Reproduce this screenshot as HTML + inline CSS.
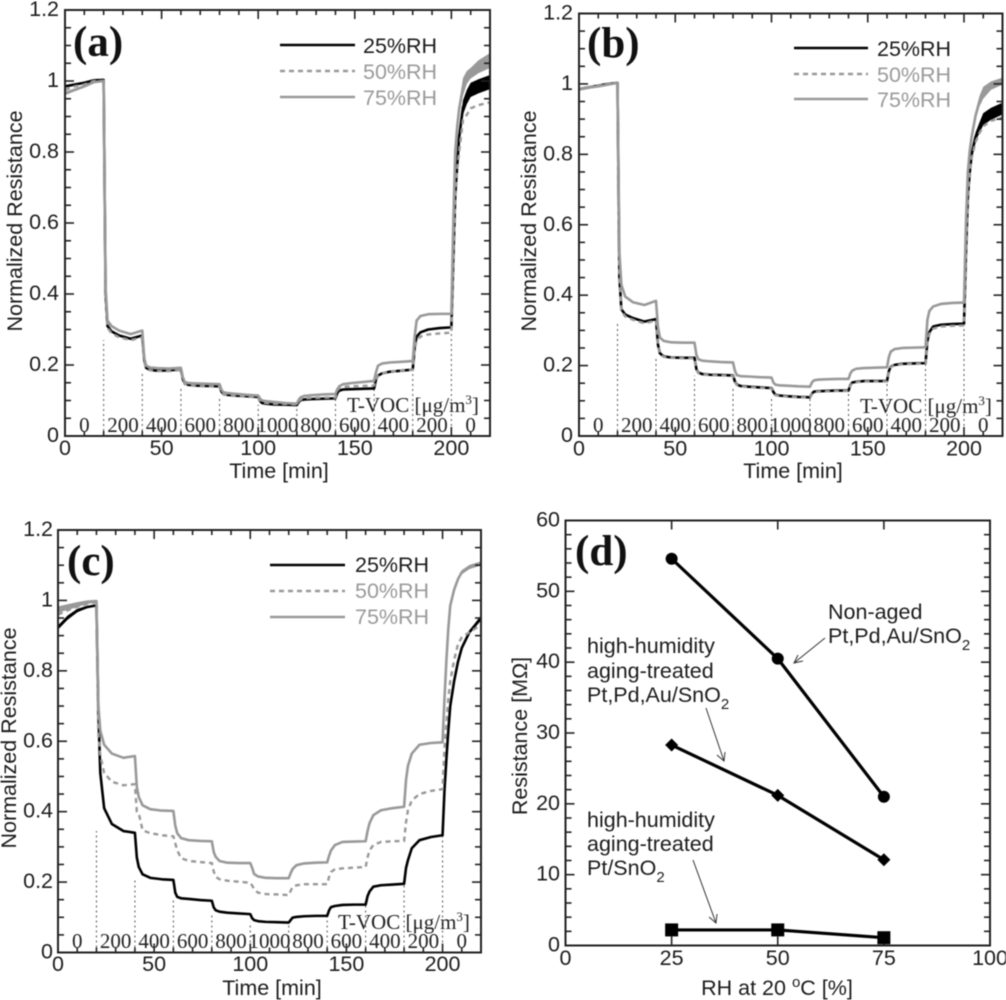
<!DOCTYPE html>
<html lang="en">
<head>
<meta charset="utf-8">
<title>Normalized resistance under T-VOC at varying humidity</title>
<style>
  html, body { margin: 0; padding: 0; background: #fff; }
  #figure { display: block; width: 1006px; height: 1000px; filter: blur(0.45px); }
  text { font-family: "Liberation Sans", Arial, sans-serif; font-size: 21.5px; fill: #1c1c1c; }
  .gray { fill: #9a9a9a; }
  .serif { font-family: "Liberation Serif", "Times New Roman", serif; font-size: 21px; fill: #222; }
  .tag { font-family: "Liberation Serif", "Times New Roman", serif; font-size: 43px; font-weight: bold; fill: #111; }
  .axis { fill: none; stroke: #222; stroke-width: 2; }
  .tick { stroke: #222; stroke-width: 1.6; }
  .guide { stroke: #555; stroke-width: 1; stroke-dasharray: 2 3; }
  .s25 { fill: none; stroke: #000; stroke-width: 2.6; stroke-linejoin: round; }
  .s50 { fill: none; stroke: #999; stroke-width: 2.4; stroke-dasharray: 5 4; }
  .s75 { fill: none; stroke: #999; stroke-width: 2.6; stroke-linejoin: round; }
  .trend { fill: none; stroke: #000; stroke-width: 3.2; stroke-linejoin: round; }
  .pointer { fill: none; stroke: #333; stroke-width: 1; }
</style>
</head>
<body>
<svg id="figure" xmlns="http://www.w3.org/2000/svg" width="1006" height="1000" viewBox="0 0 1006 1000">
  <rect width="1006" height="1000" fill="#fff"/>

  <g id="panel-a">
    <text class="tag" x="73" y="56">(a)</text>
    <text x="22" y="221" text-anchor="middle" transform="rotate(-90 22 221)">Normalized Resistance</text>
    <text x="279" y="478" text-anchor="middle">Time [min]</text>
    <line class="s25" x1="280" y1="45" x2="355" y2="45"/>
    <line class="s50" x1="280" y1="71" x2="355" y2="71"/>
    <line class="s75" x1="280" y1="97" x2="355" y2="97"/>
    <text x="363" y="53">25%RH</text>
    <text class="gray" x="363" y="79">50%RH</text>
    <text class="gray" x="363" y="105">75%RH</text>
    <text class="serif" x="347" y="412">T-VOC [μg/m<tspan dy="-8" font-size="13">3</tspan><tspan dy="8">]</tspan></text>
  </g>

  <g id="panel-b">
    <text class="tag" x="587" y="57">(b)</text>
    <text x="536" y="221" text-anchor="middle" transform="rotate(-90 536 221)">Normalized Resistance</text>
    <text x="793" y="478" text-anchor="middle">Time [min]</text>
    <line class="s25" x1="794" y1="48" x2="868" y2="48"/>
    <line class="s50" x1="794" y1="74" x2="868" y2="74"/>
    <line class="s75" x1="794" y1="99" x2="868" y2="99"/>
    <text x="877" y="56">25%RH</text>
    <text class="gray" x="877" y="82">50%RH</text>
    <text class="gray" x="877" y="107">75%RH</text>
    <text class="serif" x="860" y="413">T-VOC [μg/m<tspan dy="-8" font-size="13">3</tspan><tspan dy="8">]</tspan></text>
  </g>

  <g id="panel-c">
    <text class="tag" x="67" y="575">(c)</text>
    <text x="16" y="738" text-anchor="middle" transform="rotate(-90 16 738)">Normalized Resistance</text>
    <text x="272" y="995" text-anchor="middle">Time [min]</text>
    <line class="s25" x1="270" y1="565" x2="345" y2="565"/>
    <line class="s50" x1="270" y1="591" x2="345" y2="591"/>
    <line class="s75" x1="270" y1="617" x2="345" y2="617"/>
    <text x="355" y="572">25%RH</text>
    <text class="gray" x="355" y="598">50%RH</text>
    <text class="gray" x="355" y="624">75%RH</text>
    <text class="serif" x="338" y="929">T-VOC [μg/m<tspan dy="-8" font-size="13">3</tspan><tspan dy="8">]</tspan></text>
  </g>

  <g id="panel-d">
    <text class="tag" x="575" y="565">(d)</text>
    <text x="527" y="736" text-anchor="middle" transform="rotate(-90 527 736)">Resistance [MΩ]</text>
    <text x="777" y="995" text-anchor="middle">RH at 20 <tspan dy="-8" font-size="15">o</tspan><tspan dy="8">C [%]</tspan></text>
    <text x="828" y="619">Non-aged</text>
    <text x="828" y="643">Pt,Pd,Au/SnO<tspan dy="7" font-size="15">2</tspan></text>
    <text x="587" y="653">high-humidity</text>
    <text x="587" y="678">aging-treated</text>
    <text x="587" y="702">Pt,Pd,Au/SnO<tspan dy="7" font-size="15">2</tspan></text>
    <text x="587" y="827">high-humidity</text>
    <text x="587" y="851">aging-treated</text>
    <text x="587" y="875">Pt/SnO<tspan dy="7" font-size="15">2</tspan></text>
    <path class="pointer" d="M825 638 L794 663 M803 661 L794 663 L798 655"/>
    <path class="pointer" d="M706 708 L724 761 M717 755 L724 761 L725 752"/>
    <path class="pointer" d="M693 860 L716 923 M709 917 L716 923 L717 914"/>
  </g>
</svg>

<script>
// Time samples shared by every series of panels a, b and c (minutes)
const times = [0,5,10,15,20, 21,22,24,28,34,40, 41,42,44,48,54,60, 61,62,64,68,74,80, 81,82,84,88,94,100, 101,102,104,108,114,120, 121,122,124,128,134,140, 141,142,144,148,154,160, 161,162,164,168,174,180, 181,182,184,188,194,200, 201,202,203,204,206,208,210,214,220];
const stepTimes = [20,40,60,80,100,120,140,160,180,200];
const vocTimes = [10,30,50,70,90,110,130,150,170,190,210];
const vocLabels = ['0','200','400','600','800','1000','800','600','400','200','0'];
const timeTicks = [0,50,100,150,200];
const resistanceTicks = [0,0.2,0.4,0.6,0.8,1,1.2];

// Panel (a)
const a25 = [.985,.99,.995,1.002,1.003, .40,.31,.295,.283,.274,.283, .215,.192,.186,.184,.185,.188, .16,.148,.144,.142,.141,.14, .125,.118,.116,.114,.112,.11, .098,.093,.091,.089,.088,.087, .096,.101,.103,.104,.105,.106, .122,.128,.131,.132,.133,.134, .16,.17,.176,.181,.184,.187, .25,.28,.292,.3,.304,.306, .5,.68,.76,.84,.925,.955,.975,.985,.997];
const a50 = [.975,.985,.99,1,1, .40,.305,.29,.278,.27,.278, .21,.19,.185,.183,.183,.186, .158,.146,.143,.141,.14,.139, .124,.117,.115,.113,.111,.109, .099,.095,.093,.091,.09,.089, .098,.103,.106,.107,.108,.108, .128,.135,.138,.14,.141,.142, .16,.17,.176,.181,.184,.187, .245,.27,.28,.286,.289,.291, .5,.67,.75,.8,.89,.905,.923,.932,.94];
const a75 = [.965,.975,.985,.997,1, .42,.325,.31,.297,.287,.297, .22,.198,.193,.191,.19,.192, .165,.152,.149,.148,.147,.146, .13,.123,.121,.119,.116,.114, .105,.1,.098,.096,.093,.091, .102,.109,.113,.115,.117,.118, .132,.14,.146,.149,.152,.155, .18,.198,.204,.207,.209,.211, .28,.325,.338,.343,.344,.344, .6,.8,.87,.92,.983,1.01,1.022,1.04,1.058];
// Half-width of the noisy band: first five samples, then the nine recovery samples
const a25Spread = [.003,.003,.003,.002,.002, .002,.003,.005,.008,.02,.02,.02,.02,.02];
const a50Spread = [0,0,0,0,0, 0,0,0,0,0,0,0,0,0];
const a75Spread = [.005,.004,.004,.003,.002, .002,.005,.008,.015,.025,.018,.015,.018,.021];

// Panel (b)
const b25 = [.985,.99,.995,1,1.003, .45,.36,.345,.335,.325,.332, .26,.235,.226,.223,.222,.222, .19,.18,.176,.174,.173,.172, .155,.146,.142,.14,.138,.136, .125,.117,.115,.113,.111,.11, .12,.126,.127,.128,.129,.129, .145,.152,.154,.156,.156,.156, .185,.197,.202,.205,.206,.207, .27,.295,.311,.316,.318,.319, .52,.68,.75,.8,.85,.875,.9,.915,.93];
const b50 = [.985,.99,.995,1,1.002, .45,.355,.34,.33,.32,.328, .26,.233,.225,.222,.221,.221, .19,.179,.175,.173,.172,.171, .154,.145,.141,.139,.137,.135, .124,.116,.114,.112,.11,.109, .119,.125,.126,.127,.128,.128, .144,.151,.153,.155,.155,.155, .184,.196,.201,.204,.205,.206, .265,.29,.305,.311,.313,.314, .52,.68,.75,.79,.835,.86,.88,.895,.905];
const b75 = [.985,.99,.993,.998,1.003, .52,.43,.396,.38,.372,.384, .31,.28,.27,.266,.265,.265, .23,.218,.214,.212,.21,.209, .185,.173,.17,.169,.167,.166, .152,.146,.144,.143,.141,.14, .152,.158,.16,.161,.162,.162, .178,.186,.191,.193,.194,.195, .225,.24,.247,.25,.251,.252, .33,.355,.368,.375,.378,.379, .6,.75,.81,.85,.91,.95,.975,.995,1.008];
const b25Spread = [.004,.004,.003,.002,.002, .002,.003,.005,.008,.012,.015,.017,.017,.017];
const b50Spread = [0,0,0,0,0, 0,0,0,0,0,0,0,0,0];
const b75Spread = [.004,.004,.003,.002,.002, .002,.004,.006,.008,.012,.015,.017,.012,.01];

// Panel (c)
const c25 = [.923,.951,.971,.981,.986, .68,.51,.41,.365,.345,.34, .27,.243,.222,.212,.208,.206, .17,.158,.154,.152,.149,.147, .128,.12,.116,.113,.111,.109, .097,.092,.089,.087,.086,.085, .092,.099,.101,.103,.104,.104, .12,.129,.132,.135,.136,.136, .16,.173,.187,.191,.193,.195, .24,.262,.296,.319,.328,.333, .46,.55,.63,.70,.77,.825,.865,.91,.95];
const c50 = [.96,.972,.982,.99,.995, .62,.56,.51,.485,.475,.478, .40,.396,.347,.339,.333,.33, .31,.29,.268,.26,.257,.254, .23,.215,.208,.204,.201,.198, .19,.18,.17,.166,.165,.163, .175,.186,.191,.194,.194,.194, .215,.229,.236,.239,.241,.243, .27,.29,.305,.314,.316,.317, .37,.404,.432,.45,.459,.464, .58,.65,.72,.77,.83,.875,.895,.91,.93];
const c75 = [.974,.981,.988,.995,.998, .70,.63,.59,.565,.553,.558, .47,.442,.418,.407,.403,.402, .36,.339,.325,.319,.317,.316, .285,.272,.26,.255,.254,.254, .24,.223,.216,.212,.211,.211, .225,.237,.248,.253,.255,.256, .275,.29,.305,.314,.315,.316, .345,.367,.39,.404,.41,.414, .49,.53,.565,.59,.595,.597, .72,.83,.92,.985,1.03,1.06,1.08,1.095,1.105];
const c25Spread = [.006,.006,.005,.003,.002, .001,.001,.002,.002,.003,.003,.004,.005,.007];
const c50Spread = [0,0,0,0,0, 0,0,0,0,0,0,0,0,0];
const c75Spread = [.009,.008,.007,.005,.004, .002,.002,.003,.004,.006,.006,.006,.006,.006];

// Panel (d)
const humidity = [25,50,75];
const nonAged = [54.6,40.5,21];
const agedPtPdAu = [28.3,21.2,12.1];
const agedPt = [2.2,2.2,1.1];
const humidityTicks = [0,25,50,75,100];
const resistanceMohmTicks = [0,10,20,30,40,50,60];

const NS = 'http://www.w3.org/2000/svg';

function shape(parent, tag, attrs) {
  const el = document.createElementNS(NS, tag);
  for (const key in attrs) el.setAttribute(key, attrs[key]);
  parent.appendChild(el);
  return el;
}

function label(parent, x, y, anchor, content) {
  const el = shape(parent, 'text', { x: x, y: y, 'text-anchor': anchor });
  el.textContent = content;
  return el;
}

function frame(parent, box, prefix) {
  const rect = shape(parent, 'rect', { class: 'axis', x: box.left, y: box.top, width: box.right - box.left, height: box.bottom - box.top });
  
  
}

function tickPair(parent, orientation, at, length, box, prefix) {
  if (orientation === 'x') {
    const low = shape(parent, 'line', { class: 'tick', x1: at, x2: at, y1: box.bottom, y2: box.bottom - length });
    
    
    const high = shape(parent, 'line', { class: 'tick', x1: at, x2: at, y1: box.top, y2: box.top + length });
    
    
  } else {
    const low = shape(parent, 'line', { class: 'tick', x1: box.left, x2: box.left + length, y1: at, y2: at });
    
    
    const high = shape(parent, 'line', { class: 'tick', x1: box.right, x2: box.right - length, y1: at, y2: at });
    
    
  }
}

function points(xs, ys, sx, sy) {
  return xs.map(function (x, i) { return sx(x).toFixed(2) + ',' + sy(ys[i]).toFixed(2); }).join(' ');
}

function drawBand(parent, xs, ys, spread, sx, sy, colour, from, to, offset, name) {
  const upper = [];
  const lower = [];
  for (let i = from; i <= to; i++) {
    const half = spread[i - from + offset];
    upper.push(sx(xs[i]).toFixed(2) + ',' + sy(ys[i] + half).toFixed(2));
    lower.unshift(sx(xs[i]).toFixed(2) + ',' + sy(ys[i] - half).toFixed(2));
  }
  const band = shape(parent, 'polygon', { points: upper.concat(lower).join(' '), fill: colour });
  
  
}

function drawTimePanel(id, prefix, box, labelRight, xLabelBase, vocBase, s25, s50, s75, w25, w50, w75) {
  const parent = document.getElementById(id);
  const g = shape(parent, 'g', {});
  
  
  const sx = function (t) { return box.left + (box.right - box.left) * t / 220; };
  const sy = function (v) { return box.bottom - (box.bottom - box.top) * v / 1.2; };

  stepTimes.forEach(function (t) {
    const i = times.indexOf(t);
    const j = times.indexOf(t + 14);
    const level = Math.min(s25[i], s50[i], s75[i], s25[j], s50[j], s75[j]);
    const guide = shape(g, 'line', { class: 'guide', x1: sx(t), x2: sx(t), y1: sy(0), y2: sy(level) });
    
    
  });

  const last = times.length - 1;
  [[s25, w25, '#000', 's25', '25'], [s50, w50, '#999', 's50', '50'], [s75, w75, '#999', 's75', '75']].forEach(function (item) {
    const line = shape(g, 'polyline', { class: item[3], points: points(times, item[0], sx, sy) });
    
    
    drawBand(g, times, item[0], item[1], sx, sy, item[2], 0, 4, 0, prefix + '-start-band-' + item[4] + 'rh');
    drawBand(g, times, item[0], item[1], sx, sy, item[2], last - 8, last, 5, prefix + '-recovery-band-' + item[4] + 'rh');
  });

  frame(g, box, prefix);
  for (let t = 10; t < 220; t += 10) {
    tickPair(g, 'x', sx(t), t % 50 === 0 ? 9 : 5, box, prefix);
  }
  for (let k = 1; k < 24; k++) {
    tickPair(g, 'y', sy(k * 0.05), k % 4 === 0 ? 9 : 6, box, prefix);
  }

  timeTicks.forEach(function (t) {
    const tickText = label(g, sx(t), xLabelBase, 'middle', String(t));
    
    
  });
  resistanceTicks.forEach(function (v) {
    const tickText = label(g, labelRight, sy(v) + 6, 'end', String(v));
    
    
  });
  vocLabels.forEach(function (content, i) {
    const voc = label(g, sx(vocTimes[i]), vocBase, 'middle', content);
    voc.setAttribute('class', 'serif');
    
    
  });
}

function drawResistancePanel() {
  const parent = document.getElementById('panel-d');
  const box = { left: 565.5, right: 990, top: 520.5, bottom: 945.5 };
  const g = shape(parent, 'g', {});
  
  
  const sx = function (x) { return box.left + (box.right - box.left) * x / 100; };
  const sy = function (v) { return box.bottom - (box.bottom - box.top) * v / 60; };

  frame(g, box, 'panel-d');
  humidityTicks.forEach(function (x) {
    if (x > 0 && x < 100) tickPair(g, 'x', sx(x), 9, box, 'panel-d');
    const tickText = label(g, sx(x), 965, 'middle', String(x));
    
    
  });
  for (let v = 2; v < 60; v += 2) {
    tickPair(g, 'y', sy(v), v % 10 === 0 ? 9 : 6, box, 'panel-d');
  }
  resistanceMohmTicks.forEach(function (v) {
    const tickText = label(g, 560, sy(v) + 6, 'end', String(v));
    
    
  });

  const line1 = shape(g, 'polyline', { class: 'trend', points: points(humidity, nonAged, sx, sy) });
  
  
  const line2 = shape(g, 'polyline', { class: 'trend', points: points(humidity, agedPtPdAu, sx, sy) });
  
  
  const line3 = shape(g, 'polyline', { class: 'trend', points: points(humidity, agedPt, sx, sy) });
  
  

  humidity.forEach(function (x, i) {
    const dot = shape(g, 'circle', { cx: sx(x), cy: sy(nonAged[i]), r: 6, fill: '#000' });
    
    

    const cx = sx(x);
    const cy = sy(agedPtPdAu[i]);
    const diamond = shape(g, 'polygon', { points: (cx - 6.5) + ',' + cy + ' ' + cx + ',' + (cy - 6.5) + ' ' + (cx + 6.5) + ',' + cy + ' ' + cx + ',' + (cy + 6.5), fill: '#000' });
    
    

    const square = shape(g, 'rect', { x: sx(x) - 6.5, y: sy(agedPt[i]) - 6.5, width: 13, height: 13, fill: '#000' });
    
    
  });
}

drawTimePanel('panel-a', 'panel-a', { left: 65, right: 490, top: 10, bottom: 436 }, 59, 455, 432, a25, a50, a75, a25Spread, a50Spread, a75Spread);
drawTimePanel('panel-b', 'panel-b', { left: 579, right: 1002.5, top: 13.5, bottom: 436 }, 573, 455.5, 432, b25, b50, b75, b25Spread, b50Spread, b75Spread);
drawTimePanel('panel-c', 'panel-c', { left: 58, right: 481, top: 530, bottom: 952.5 }, 53, 971, 948, c25, c50, c75, c25Spread, c50Spread, c75Spread);
drawResistancePanel();
</script>
</body>
</html>
